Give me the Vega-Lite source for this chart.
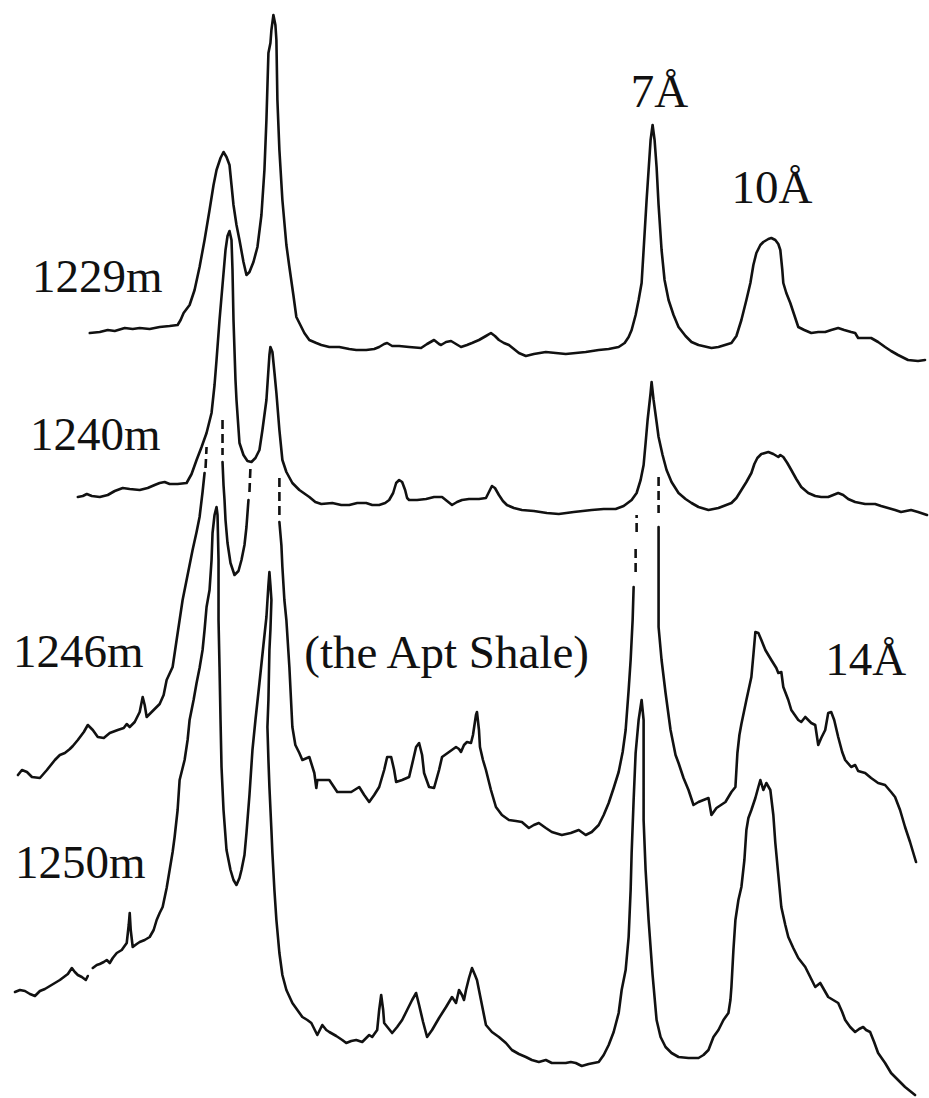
{
"$schema": "https://vega.github.io/schema/vega-lite/v6.json",
"width": 929, "height": 1098, "padding": 0,
"autosize": {"type": "fit", "contains": "padding"},
"background": "white",
"config": {"view": {"stroke": null}, "line": {"color": "#111", "strokeWidth": 2.6, "strokeJoin": "round", "strokeCap": "round"}},
"encoding": {
 "x": {"field": "x", "type": "quantitative", "scale": {"domain": [0, 929], "nice": false, "zero": false}, "axis": null},
 "y": {"field": "y", "type": "quantitative", "scale": {"domain": [0, 1098], "nice": false, "zero": false, "reverse": true}, "axis": null}
},
"layer": [
 {"data": {"values": [
 {"x":90,"y":333},{"x":100,"y":332},{"x":108,"y":330},{"x":115,"y":331},{"x":125,"y":328},{"x":133,"y":329},{"x":140,"y":328},{"x":150,"y":329},{"x":160,"y":327},{"x":170,"y":326},{"x":178,"y":325},{"x":181,"y":320},{"x":184,"y":313},{"x":190,"y":305},{"x":195,"y":290},{"x":200,"y":267},{"x":205,"y":240},{"x":210,"y":210},{"x":214,"y":185},{"x":217,"y":170},{"x":221,"y":158},{"x":224,"y":152},{"x":227,"y":157},{"x":230,"y":165},{"x":232,"y":185},{"x":234,"y":205},{"x":237,"y":225},{"x":240,"y":240},{"x":244,"y":262},{"x":247,"y":275},{"x":250,"y":272},{"x":254,"y":262},{"x":258,"y":247},{"x":262,"y":215},{"x":265,"y":170},{"x":267,"y":120},{"x":269,"y":53},{"x":271,"y":43},{"x":272,"y":30},{"x":274,"y":15},{"x":276,"y":25},{"x":277,"y":40},{"x":278,"y":100},{"x":280,"y":150},{"x":283,"y":200},{"x":287,"y":245},{"x":290,"y":267},{"x":294,"y":295},{"x":297,"y":317},{"x":301,"y":325},{"x":305,"y":333},{"x":310,"y":340},{"x":317,"y":343},{"x":322,"y":345},{"x":330,"y":347},{"x":340,"y":347},{"x":350,"y":349},{"x":357,"y":350},{"x":367,"y":350},{"x":375,"y":349},{"x":380,"y":347},{"x":385,"y":344},{"x":388,"y":343},{"x":393,"y":346},{"x":400,"y":346},{"x":410,"y":347},{"x":422,"y":348},{"x":428,"y":344},{"x":435,"y":340},{"x":440,"y":344},{"x":442,"y":345},{"x":447,"y":342},{"x":452,"y":341},{"x":457,"y":344},{"x":462,"y":347},{"x":468,"y":345},{"x":473,"y":343},{"x":480,"y":340},{"x":487,"y":336},{"x":492,"y":333},{"x":496,"y":336},{"x":500,"y":340},{"x":505,"y":343},{"x":510,"y":345},{"x":515,"y":349},{"x":520,"y":353},{"x":527,"y":356},{"x":535,"y":354},{"x":547,"y":352},{"x":557,"y":353},{"x":567,"y":354},{"x":577,"y":353},{"x":587,"y":352},{"x":600,"y":350},{"x":610,"y":349},{"x":620,"y":347},{"x":626,"y":343},{"x":630,"y":337},{"x":633,"y":330},{"x":637,"y":315},{"x":640,"y":300},{"x":643,"y":283},{"x":645,"y":250},{"x":648,"y":200},{"x":650,"y":170},{"x":652,"y":140},{"x":654,"y":125},{"x":656,"y":140},{"x":658,"y":167},{"x":660,"y":205},{"x":663,"y":250},{"x":666,"y":280},{"x":670,"y":300},{"x":675,"y":315},{"x":680,"y":327},{"x":687,"y":336},{"x":693,"y":342},{"x":700,"y":345},{"x":713,"y":348},{"x":720,"y":347},{"x":733,"y":343},{"x":738,"y":336},{"x":743,"y":320},{"x":748,"y":300},{"x":752,"y":283},{"x":755,"y":265},{"x":758,"y":253},{"x":762,"y":245},{"x":765,"y":242},{"x":770,"y":239},{"x":773,"y":238},{"x":777,"y":240},{"x":780,"y":244},{"x":782,"y":250},{"x":784,"y":270},{"x":785,"y":283},{"x":788,"y":293},{"x":792,"y":303},{"x":796,"y":315},{"x":800,"y":327},{"x":806,"y":330},{"x":813,"y":333},{"x":820,"y":332},{"x":827,"y":332},{"x":833,"y":330},{"x":840,"y":328},{"x":846,"y":330},{"x":853,"y":332},{"x":857,"y":333},{"x":860,"y":338},{"x":867,"y":338},{"x":873,"y":338},{"x":880,"y":342},{"x":887,"y":347},{"x":893,"y":351},{"x":900,"y":355},{"x":910,"y":360},{"x":920,"y":361},{"x":927,"y":360}
 ]}, "mark": {"type": "line"}, "encoding": {"order": {"value": null}}},
 {"data": {"values": [
 {"x":78,"y":497},{"x":83,"y":496},{"x":87,"y":494},{"x":92,"y":496},{"x":100,"y":497},{"x":108,"y":495},{"x":115,"y":491},{"x":123,"y":488},{"x":130,"y":489},{"x":140,"y":490},{"x":148,"y":488},{"x":155,"y":485},{"x":160,"y":483},{"x":165,"y":482},{"x":170,"y":484},{"x":178,"y":484},{"x":187,"y":483},{"x":192,"y":474},{"x":197,"y":460},{"x":202,"y":447},{"x":207,"y":433},{"x":212,"y":413},{"x":215,"y":385},{"x":217,"y":360},{"x":220,"y":320},{"x":223,"y":285},{"x":226,"y":250},{"x":228,"y":236},{"x":230,"y":231},{"x":232,"y":240},{"x":233,"y":270},{"x":234,"y":320},{"x":236,"y":380},{"x":237,"y":400},{"x":240,"y":443},{"x":244,"y":455},{"x":248,"y":461},{"x":252,"y":462},{"x":256,"y":458},{"x":260,"y":450},{"x":263,"y":430},{"x":267,"y":400},{"x":269,"y":370},{"x":270,"y":355},{"x":271,"y":347},{"x":273,"y":352},{"x":275,"y":372},{"x":277,"y":393},{"x":280,"y":430},{"x":283,"y":460},{"x":287,"y":472},{"x":293,"y":483},{"x":300,"y":490},{"x":310,"y":497},{"x":316,"y":502},{"x":322,"y":504},{"x":333,"y":503},{"x":342,"y":505},{"x":350,"y":505},{"x":358,"y":503},{"x":367,"y":503},{"x":373,"y":505},{"x":380,"y":505},{"x":386,"y":503},{"x":390,"y":500},{"x":394,"y":493},{"x":397,"y":483},{"x":400,"y":480},{"x":403,"y":482},{"x":406,"y":490},{"x":408,"y":498},{"x":410,"y":500},{"x":418,"y":500},{"x":427,"y":499},{"x":435,"y":497},{"x":443,"y":497},{"x":448,"y":501},{"x":453,"y":505},{"x":458,"y":502},{"x":463,"y":500},{"x":470,"y":499},{"x":480,"y":499},{"x":487,"y":498},{"x":490,"y":492},{"x":493,"y":486},{"x":496,"y":488},{"x":500,"y":495},{"x":504,"y":501},{"x":508,"y":505},{"x":515,"y":508},{"x":523,"y":510},{"x":535,"y":511},{"x":548,"y":513},{"x":560,"y":514},{"x":575,"y":512},{"x":593,"y":510},{"x":605,"y":509},{"x":617,"y":509},{"x":625,"y":506},{"x":633,"y":500},{"x":638,"y":493},{"x":642,"y":480},{"x":645,"y":465},{"x":647,"y":443},{"x":649,"y":420},{"x":652,"y":393},{"x":653,"y":382},{"x":655,"y":400},{"x":658,"y":422},{"x":660,"y":437},{"x":664,"y":455},{"x":668,"y":470},{"x":673,"y":482},{"x":680,"y":493},{"x":687,"y":499},{"x":693,"y":503},{"x":700,"y":507},{"x":710,"y":510},{"x":720,"y":508},{"x":733,"y":503},{"x":738,"y":498},{"x":743,"y":490},{"x":748,"y":482},{"x":753,"y":473},{"x":756,"y":464},{"x":759,"y":458},{"x":763,"y":454},{"x":770,"y":452},{"x":775,"y":454},{"x":780,"y":457},{"x":782,"y":455},{"x":785,"y":457},{"x":789,"y":463},{"x":793,"y":470},{"x":798,"y":479},{"x":803,"y":487},{"x":810,"y":493},{"x":817,"y":496},{"x":823,"y":497},{"x":830,"y":497},{"x":835,"y":495},{"x":840,"y":493},{"x":845,"y":495},{"x":850,"y":499},{"x":857,"y":502},{"x":867,"y":504},{"x":877,"y":504},{"x":883,"y":506},{"x":890,"y":508},{"x":897,"y":510},{"x":903,"y":512},{"x":908,"y":511},{"x":913,"y":510},{"x":920,"y":512},{"x":929,"y":515}
 ]}, "mark": {"type": "line"}, "encoding": {"order": {"value": null}}},
 {"data": {"values": [
 {"x":18,"y":775},{"x":22,"y":770},{"x":27,"y":772},{"x":32,"y":777},{"x":40,"y":778},{"x":47,"y":770},{"x":55,"y":760},{"x":60,"y":755},{"x":65,"y":753},{"x":70,"y":749},{"x":73,"y":746},{"x":78,"y":740},{"x":84,"y":732},{"x":88,"y":725},{"x":93,"y":730},{"x":98,"y":737},{"x":104,"y":738},{"x":110,"y":733},{"x":118,"y":730},{"x":124,"y":728},{"x":127,"y":724},{"x":130,"y":727},{"x":135,"y":722},{"x":140,"y":712},{"x":143,"y":697},{"x":145,"y":705},{"x":147,"y":717},{"x":152,"y":712},{"x":160,"y":704},{"x":164,"y":695},{"x":167,"y":680},{"x":173,"y":667},{"x":177,"y":640},{"x":180,"y":620},{"x":183,"y":600},{"x":187,"y":580},{"x":193,"y":550},{"x":197,"y":532},{"x":200,"y":517},{"x":203,"y":492},{"x":205,"y":473}
 ]}, "mark": {"type": "line"}, "encoding": {"order": {"value": null}}},
 {"data": {"values": [
 {"x":223,"y":462},{"x":224,"y":485},{"x":225,"y":500},{"x":226,"y":520},{"x":228,"y":543},{"x":231,"y":563},{"x":235,"y":575},{"x":239,"y":571},{"x":242,"y":560},{"x":245,"y":545},{"x":247,"y":527},{"x":249,"y":500}
 ]}, "mark": {"type": "line"}, "encoding": {"order": {"value": null}}},
 {"data": {"values": [
 {"x":280,"y":522},{"x":282,"y":545},{"x":283,"y":567},{"x":285,"y":600},{"x":287,"y":620},{"x":290,"y":667},{"x":293,"y":727},{"x":296,"y":745},{"x":300,"y":753},{"x":303,"y":760},{"x":310,"y":757},{"x":315,"y":773},{"x":317,"y":788},{"x":318,"y":780},{"x":324,"y":780},{"x":330,"y":780},{"x":338,"y":792},{"x":345,"y":792},{"x":352,"y":792},{"x":360,"y":787},{"x":365,"y":795},{"x":370,"y":802},{"x":375,"y":795},{"x":380,"y":787},{"x":385,"y":770},{"x":388,"y":757},{"x":392,"y":757},{"x":395,"y":770},{"x":397,"y":782},{"x":403,"y":780},{"x":410,"y":777},{"x":414,"y":760},{"x":417,"y":747},{"x":420,"y":743},{"x":423,"y":755},{"x":425,"y":773},{"x":430,"y":787},{"x":435,"y":788},{"x":440,"y":770},{"x":443,"y":757},{"x":450,"y":752},{"x":457,"y":747},{"x":460,"y":749},{"x":462,"y":752},{"x":465,"y":745},{"x":468,"y":742},{"x":472,"y":743},{"x":474,"y":735},{"x":477,"y":715},{"x":478,"y":712},{"x":480,"y":730},{"x":481,"y":747},{"x":484,"y":760},{"x":487,"y":770},{"x":492,"y":790},{"x":497,"y":807},{"x":503,"y":815},{"x":510,"y":820},{"x":517,"y":821},{"x":523,"y":822},{"x":530,"y":828},{"x":535,"y":825},{"x":540,"y":823},{"x":547,"y":828},{"x":553,"y":832},{"x":563,"y":835},{"x":572,"y":833},{"x":580,"y":830},{"x":587,"y":835},{"x":593,"y":832},{"x":600,"y":825},{"x":605,"y":815},{"x":610,"y":803},{"x":615,"y":788},{"x":620,"y":772},{"x":624,"y":752},{"x":627,"y":730},{"x":630,"y":690},{"x":632,"y":660},{"x":634,"y":620},{"x":635,"y":587}
 ]}, "mark": {"type": "line"}, "encoding": {"order": {"value": null}}},
 {"data": {"values": [
 {"x":660,"y":527},{"x":660,"y":580},{"x":660,"y":627},{"x":663,"y":660},{"x":667,"y":693},{"x":672,"y":730},{"x":677,"y":755},{"x":680,"y":763},{"x":685,"y":778},{"x":690,"y":790},{"x":695,"y":805},{"x":700,"y":802},{"x":705,"y":800},{"x":710,"y":798},{"x":713,"y":815},{"x":718,"y":808},{"x":727,"y":802},{"x":733,"y":792},{"x":737,"y":787},{"x":738,"y":770},{"x":739,"y":753},{"x":741,"y":735},{"x":743,"y":724},{"x":748,"y":700},{"x":753,"y":677},{"x":755,"y":655},{"x":757,"y":632},{"x":760,"y":633},{"x":763,"y":640},{"x":767,"y":650},{"x":773,"y":660},{"x":778,"y":668},{"x":780,"y":673},{"x":783,"y":672},{"x":785,"y":687},{"x":790,"y":700},{"x":793,"y":710},{"x":800,"y":720},{"x":803,"y":722},{"x":807,"y":717},{"x":813,"y":723},{"x":817,"y":725},{"x":820,"y":745},{"x":823,"y":738},{"x":827,"y":730},{"x":830,"y":713},{"x":833,"y":712},{"x":836,"y":720},{"x":840,"y":737},{"x":844,"y":752},{"x":847,"y":760},{"x":853,"y":767},{"x":857,"y":765},{"x":860,"y":771},{"x":867,"y":773},{"x":873,"y":778},{"x":880,"y":783},{"x":887,"y":785},{"x":893,"y":792},{"x":897,"y":797},{"x":902,"y":810},{"x":907,"y":827},{"x":912,"y":842},{"x":918,"y":862}
 ]}, "mark": {"type": "line"}, "encoding": {"order": {"value": null}}},
 {"data": {"values": [
 {"x":15,"y":992},{"x":20,"y":990},{"x":25,"y":991},{"x":30,"y":994},{"x":35,"y":996},{"x":40,"y":991},{"x":45,"y":989},{"x":50,"y":986},{"x":55,"y":983},{"x":60,"y":980},{"x":64,"y":977},{"x":68,"y":974},{"x":72,"y":968},{"x":75,"y":972},{"x":78,"y":975},{"x":82,"y":977},{"x":86,"y":980},{"x":88,"y":976}
 ]}, "mark": {"type": "line"}, "encoding": {"order": {"value": null}}},
 {"data": {"values": [
 {"x":93,"y":968},{"x":97,"y":965},{"x":100,"y":964},{"x":104,"y":962},{"x":107,"y":960},{"x":110,"y":963},{"x":113,"y":958},{"x":117,"y":953},{"x":122,"y":950},{"x":127,"y":943},{"x":129,"y":925},{"x":130,"y":913},{"x":131,"y":930},{"x":133,"y":947},{"x":137,"y":944},{"x":140,"y":942},{"x":145,"y":940},{"x":150,"y":937},{"x":154,"y":930},{"x":157,"y":920},{"x":160,"y":913},{"x":163,"y":907},{"x":167,"y":888},{"x":170,"y":870},{"x":173,"y":852},{"x":175,"y":837},{"x":178,"y":810},{"x":180,"y":780},{"x":183,"y":768},{"x":185,"y":760},{"x":188,"y":740},{"x":190,"y":720},{"x":194,"y":700},{"x":197,"y":683},{"x":200,"y":668},{"x":203,"y":650},{"x":205,"y":630},{"x":207,"y":607},{"x":210,"y":590},{"x":212,"y":560},{"x":213,"y":533},{"x":215,"y":515},{"x":217,"y":507},{"x":218,"y":515},{"x":219,"y":560},{"x":219,"y":620},{"x":220,"y":667},{"x":221,"y":720},{"x":222,"y":767},{"x":224,"y":810},{"x":227,"y":850},{"x":231,"y":870},{"x":234,"y":880},{"x":237,"y":885},{"x":240,"y":878},{"x":242,"y":870},{"x":245,"y":855},{"x":247,"y":833},{"x":250,"y":795},{"x":253,"y":750},{"x":256,"y":720},{"x":260,"y":683},{"x":264,"y":645},{"x":267,"y":617},{"x":269,"y":585},{"x":270,"y":572},{"x":271,"y":585},{"x":272,"y":600},{"x":271,"y":630},{"x":270,"y":650},{"x":269,"y":700},{"x":268,"y":727},{"x":269,"y":760},{"x":270,"y":787},{"x":272,"y":830},{"x":273,"y":853},{"x":275,"y":890},{"x":277,"y":920},{"x":280,"y":953},{"x":283,"y":975},{"x":287,"y":990},{"x":293,"y":1003},{"x":298,"y":1010},{"x":303,"y":1017},{"x":308,"y":1020},{"x":312,"y":1023},{"x":318,"y":1035},{"x":323,"y":1025},{"x":327,"y":1030},{"x":330,"y":1032},{"x":337,"y":1036},{"x":343,"y":1040},{"x":347,"y":1043},{"x":352,"y":1041},{"x":357,"y":1040},{"x":363,"y":1042},{"x":370,"y":1035},{"x":373,"y":1037},{"x":378,"y":1030},{"x":380,"y":1010},{"x":382,"y":995},{"x":384,"y":1010},{"x":385,"y":1023},{"x":389,"y":1028},{"x":393,"y":1033},{"x":398,"y":1027},{"x":403,"y":1020},{"x":408,"y":1010},{"x":413,"y":1000},{"x":417,"y":993},{"x":420,"y":1005},{"x":424,"y":1022},{"x":428,"y":1037},{"x":433,"y":1030},{"x":440,"y":1018},{"x":447,"y":1007},{"x":453,"y":997},{"x":457,"y":1003},{"x":460,"y":990},{"x":463,"y":995},{"x":465,"y":1000},{"x":467,"y":990},{"x":470,"y":978},{"x":473,"y":968},{"x":476,"y":975},{"x":478,"y":980},{"x":482,"y":1000},{"x":487,"y":1025},{"x":493,"y":1032},{"x":500,"y":1037},{"x":507,"y":1043},{"x":513,"y":1050},{"x":520,"y":1054},{"x":527,"y":1057},{"x":533,"y":1060},{"x":540,"y":1062},{"x":547,"y":1060},{"x":553,"y":1063},{"x":560,"y":1063},{"x":567,"y":1063},{"x":572,"y":1062},{"x":577,"y":1063},{"x":583,"y":1066},{"x":590,"y":1064},{"x":600,"y":1062},{"x":605,"y":1055},{"x":610,"y":1045},{"x":615,"y":1032},{"x":620,"y":1013},{"x":623,"y":990},{"x":627,"y":970},{"x":630,"y":937},{"x":632,"y":890},{"x":633,"y":853},{"x":635,"y":800},{"x":637,"y":753},{"x":640,"y":720},{"x":643,"y":700},{"x":645,"y":720},{"x":645,"y":770},{"x":645,"y":820},{"x":647,"y":870},{"x":650,"y":920},{"x":654,"y":975},{"x":658,"y":1020},{"x":662,"y":1037},{"x":667,"y":1047},{"x":673,"y":1053},{"x":680,"y":1057},{"x":690,"y":1058},{"x":700,"y":1058},{"x":705,"y":1055},{"x":710,"y":1050},{"x":715,"y":1037},{"x":720,"y":1030},{"x":725,"y":1020},{"x":730,"y":1013},{"x":732,"y":1000},{"x":733,"y":987},{"x":735,"y":950},{"x":737,"y":920},{"x":740,"y":900},{"x":743,"y":887},{"x":746,"y":860},{"x":748,"y":830},{"x":750,"y":818},{"x":753,"y":810},{"x":757,"y":798},{"x":760,"y":787},{"x":762,"y":780},{"x":765,"y":790},{"x":768,"y":783},{"x":772,"y":790},{"x":775,"y":815},{"x":777,"y":843},{"x":780,"y":875},{"x":783,"y":907},{"x":787,"y":925},{"x":790,"y":937},{"x":795,"y":948},{"x":800,"y":958},{"x":807,"y":967},{"x":812,"y":977},{"x":817,"y":987},{"x":822,"y":983},{"x":826,"y":990},{"x":830,"y":997},{"x":835,"y":1000},{"x":840,"y":1003},{"x":844,"y":1012},{"x":847,"y":1020},{"x":852,"y":1027},{"x":857,"y":1032},{"x":861,"y":1029},{"x":865,"y":1027},{"x":868,"y":1030},{"x":872,"y":1032},{"x":876,"y":1042},{"x":880,"y":1053},{"x":887,"y":1063},{"x":893,"y":1073},{"x":900,"y":1080},{"x":907,"y":1087},{"x":912,"y":1091},{"x":917,"y":1095}
 ]}, "mark": {"type": "line"}, "encoding": {"order": {"value": null}}},
 {"data": {"values": [
 {"seg":"b","x":206,"y":468},{"seg":"b","x":207,"y":447},
 {"seg":"c","x":223,"y":420},{"seg":"c","x":223,"y":455},
 {"seg":"e","x":250,"y":492},{"seg":"e","x":251,"y":467},
 {"seg":"f","x":280,"y":478},{"seg":"f","x":280,"y":518},
 {"seg":"h","x":637,"y":572},{"seg":"h","x":637,"y":548},
 {"seg":"i","x":638,"y":532},{"seg":"i","x":638,"y":515},
 {"seg":"j","x":660,"y":477},{"seg":"j","x":660,"y":513}
 ]}, "mark": {"type": "line", "strokeDash": [9, 5], "strokeCap": "butt"}, "encoding": {"detail": {"field": "seg", "type": "nominal"}, "order": {"value": null}}},
 {"data": {"values": [
 {"label":"1229m","x":32,"y":292},
 {"label":"1240m","x":30,"y":450},
 {"label":"1246m","x":13,"y":667},
 {"label":"1250m","x":15,"y":878},
 {"label":"(the Apt Shale)","x":305,"y":668},
 {"label":"7Å","x":632,"y":107},
 {"label":"10Å","x":733,"y":203},
 {"label":"14Å","x":827,"y":675}
 ]}, "mark": {"type": "text", "font": "Liberation Serif", "fontSize": 47, "align": "left", "baseline": "alphabetic", "color": "#111"}, "encoding": {"text": {"field": "label", "type": "nominal"}}}
]
}
